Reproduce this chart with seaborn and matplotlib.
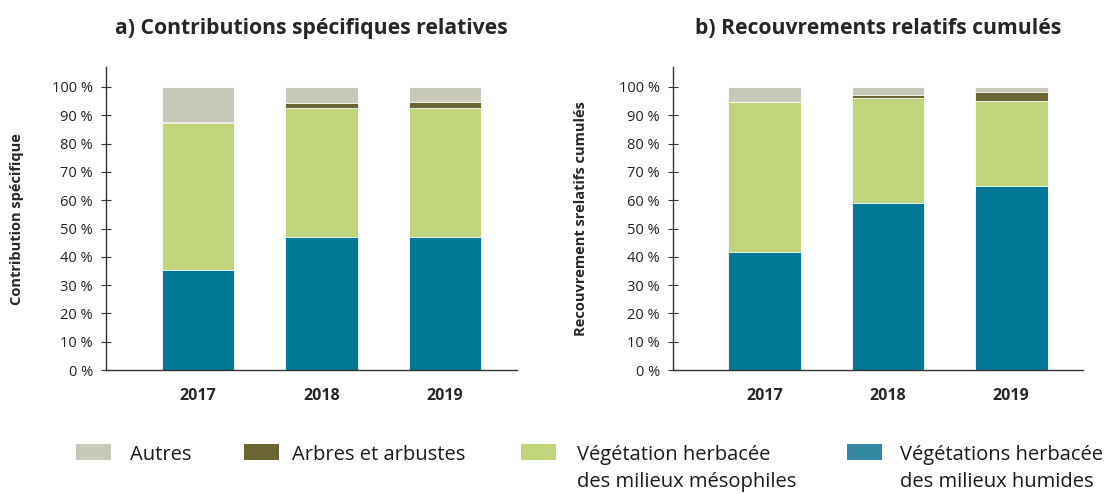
import pandas as pd
import matplotlib.pyplot as plt
import seaborn as sns
from matplotlib.patches import Rectangle
from matplotlib.ticker import FuncFormatter

years = ['2017', '2018', '2019']
categories = ['Végétations herbacée\ndes milieux humides',
              'Végétation herbacée\ndes milieux mésophiles',
              'Arbres et arbustes',
              'Autres']

# a) contributions spécifiques (%)
contrib_humides = [35.3, 46.9, 46.9]
contrib_mesophiles = [52.0, 45.7, 45.7]
contrib_arbres = [0.4, 1.8, 2.1]
contrib_autres = [12.3, 5.6, 5.3]

# b) recouvrements cumulés (%)
recouv_humides = [41.7, 59.0, 65.0]
recouv_mesophiles = [52.9, 37.2, 30.2]
recouv_arbres = [0.2, 1.0, 2.9]
recouv_autres = [5.2, 2.8, 1.9]

colors = ['#007896', '#bfd47b', '#6b6535', '#c8c9b8']
legend_colors = ['#3389a1', '#bfd47b', '#6b6535', '#c8c9b8']

sns.set_style('white')
plt.rcParams['font.family'] = ['Open Sans', 'DejaVu Sans']

W, H = 1113, 494
fig = plt.figure(figsize=(W / 100, H / 100), dpi=100)
ax_a = fig.add_axes([0.0952, 0.251, 0.369, 0.613])
ax_b = fig.add_axes([0.6047, 0.251, 0.368, 0.613])


def draw_panel(ax, series, title, ylabel, label_x):
    df = pd.DataFrame(dict(zip(categories, series)), index=years)
    cum = df.cumsum(axis=1)
    # on dessine du haut de la pile vers le bas
    for cat, col in reversed(list(zip(categories, colors))):
        d = pd.DataFrame({'year': years, 'value': cum[cat].values})
        sns.barplot(data=d, x='year', y='value', color=col, width=0.59,
                    edgecolor='white', linewidth=0.6, saturation=1, ax=ax)
    ax.set_xlim(-0.745, 2.58)
    ax.set_ylim(0, 107)
    ax.set_yticks(range(0, 101, 10))
    ax.yaxis.set_major_formatter(FuncFormatter(lambda v, p: f'{int(v)} %'))
    ax.tick_params(axis='y', direction='inout', length=7, width=0.8,
                   color='#333333', labelsize=10.5, pad=6, left=True,
                   labelcolor='#222222')
    ax.tick_params(axis='x', length=0, labelsize=11.5, pad=13)
    for lab in ax.get_xticklabels():
        lab.set_fontweight('bold')
    ax.set_xlabel('')
    ax.set_ylabel(ylabel, fontsize=10.5, fontweight='bold')
    ax.yaxis.set_label_coords(label_x, 0.5)
    ax.set_title(title, fontsize=15.2, fontweight='bold', pad=24)
    sns.despine(ax=ax)
    for sp in ['left', 'bottom']:
        ax.spines[sp].set_color('#333333')
        ax.spines[sp].set_linewidth(1.0)


draw_panel(ax_a, [contrib_humides, contrib_mesophiles, contrib_arbres, contrib_autres],
           'a) Contributions spécifiques relatives', 'Contribution spécifique', -0.2)
draw_panel(ax_b, [recouv_humides, recouv_mesophiles, recouv_arbres, recouv_autres],
           'b) Recouvrements relatifs cumulés', 'Recouvrement srelatifs cumulés', -0.207)

# légende manuelle (carré aligné sur la première ligne)
legend_order = [3, 2, 1, 0]
square_x = [76, 244, 521, 847]
text_x = [130, 292, 577, 900]
for i, sx, tx in zip(legend_order, square_x, text_x):
    fig.add_artist(Rectangle((sx / W, 1 - 460 / H), 35 / W, 16 / H,
                             transform=fig.transFigure,
                             facecolor=legend_colors[i], edgecolor='none'))
    for k, line in enumerate(categories[i].split('\n')):
        fig.text(tx / W, 1 - (460 + 27 * k) / H, line, fontsize=14.5,
                 color='#1a1a1a', ha='left', va='baseline')

fig.savefig('out.png', dpi=100)
